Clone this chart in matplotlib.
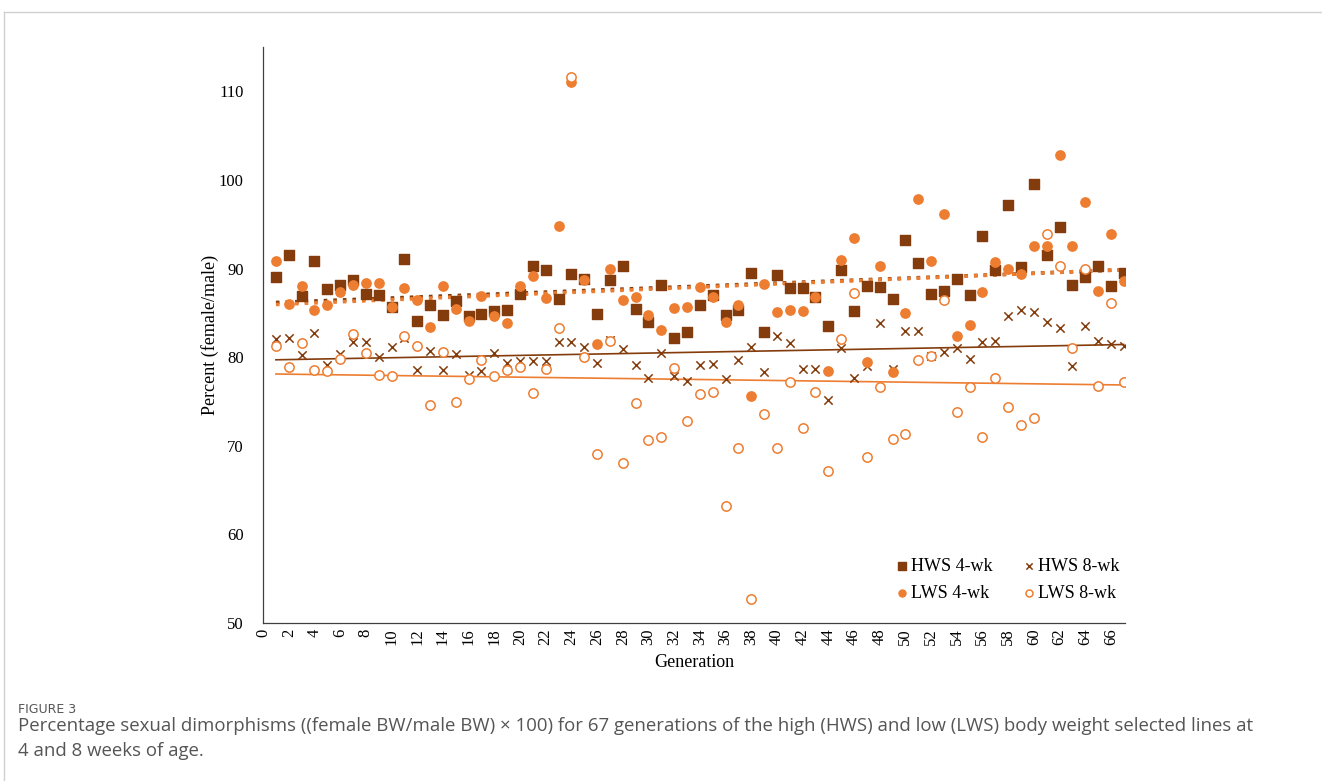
import numpy as np
import matplotlib
matplotlib.use("Agg")
import matplotlib.pyplot as plt
from matplotlib.lines import Line2D

# generations 1..67
gen = np.arange(1, 68)

hws4 = [89.1, 91.5, 86.9, 90.8, 87.7, 88.1, 88.7, 87.1, 87.0, 85.7,
        91.1, 84.1, 85.9, 84.8, 86.3, 84.7, 84.9, 85.2, 85.3, 87.1,
        90.3, 89.8, 86.6, 89.4, 88.8, 84.9, 88.7, 90.3, 85.4, 84.0,
        88.2, 82.2, 82.8, 85.9, 87.0, 84.8, 85.3, 89.5, 82.8, 89.3,
        87.8, 87.8, 86.8, 83.5, 89.8, 85.2, 88.0, 87.9, 86.6, 93.2,
        90.6, 87.1, 87.5, 88.8, 87.0, 93.7, 89.8, 97.2, 90.2, 99.5,
        91.5, 94.7, 88.1, 89.0, 90.3, 88.0, 89.5]

hws8 = [82.1, 82.2, 80.3, 82.7, 79.1, 80.4, 81.7, 81.7, 80.0, 81.1,
        82.2, 78.5, 80.7, 78.5, 80.4, 78.0, 78.4, 80.5, 79.3, 79.6,
        79.6, 79.6, 81.7, 81.7, 81.1, 79.3, 81.9, 80.9, 79.1, 77.7,
        80.5, 77.9, 77.3, 79.1, 79.2, 77.5, 79.7, 81.2, 78.3, 82.4,
        81.6, 78.7, 78.7, 75.2, 81.0, 77.6, 79.0, 83.9, 78.7, 82.9,
        82.9, 80.1, 80.6, 81.0, 79.8, 81.7, 81.8, 84.7, 85.3, 85.1,
        84.0, 83.3, 79.0, 83.5, 81.8, 81.5, 81.3]

lws4 = [90.9, 86.0, 88.0, 85.3, 85.9, 87.3, 88.1, 88.4, 88.4, 85.7,
        87.8, 86.4, 83.4, 88.0, 85.4, 84.1, 86.9, 84.6, 83.9, 88.0,
        89.2, 86.7, 94.8, 111.0, 88.7, 81.5, 90.0, 86.5, 86.8, 84.8,
        83.1, 85.6, 85.7, 87.9, 86.8, 84.0, 85.9, 75.6, 88.3, 85.1,
        85.3, 85.2, 86.8, 78.4, 91.0, 93.4, 79.4, 90.3, 78.3, 85.0,
        97.8, 90.9, 96.2, 82.4, 83.6, 87.3, 90.7, 89.9, 89.4, 92.5,
        92.6, 102.8, 92.6, 97.5, 87.5, 93.9, 88.6]

lws8 = [81.3, 78.9, 81.6, 78.6, 78.4, 79.8, 82.6, 80.5, 78.0, 77.9,
        82.4, 81.3, 74.6, 80.6, 74.9, 77.5, 79.7, 77.9, 78.6, 78.9,
        76.0, 78.7, 83.3, 111.6, 80.0, 69.1, 81.8, 68.1, 74.8, 70.6,
        71.0, 78.8, 72.8, 75.8, 76.1, 63.2, 69.8, 52.7, 73.6, 69.8,
        77.2, 72.0, 76.1, 67.2, 82.1, 87.2, 68.7, 76.6, 70.8, 71.3,
        79.7, 80.1, 86.4, 73.8, 76.6, 71.0, 77.6, 74.4, 72.3, 73.1,
        93.9, 90.3, 81.0, 90.0, 76.8, 86.1, 77.2]

brown = "#843C0C"
orange = "#ED7D31"
serif = "Liberation Serif"

fig = plt.figure(figsize=(13.22, 7.81), dpi=100)
ax = fig.add_axes([0.199, 0.2023, 0.652, 0.7375])

# linear trendlines
for y, col, ls, lw in [(hws4, brown, ":", 2.6), (lws4, orange, ":", 2.6),
                       (hws8, brown, "-", 1.2), (lws8, orange, "-", 1.2)]:
    k, b = np.polyfit(gen, y, 1)
    ax.plot([gen[0], gen[-1]], [k * gen[0] + b, k * gen[-1] + b],
            color=col, ls=ls, lw=lw, zorder=1)

h1 = ax.scatter(gen, hws4, marker="s", s=50, color=brown, label="HWS 4-wk", zorder=3)
h2 = ax.scatter(gen, hws8, marker="x", s=36, color=brown, linewidths=1.1, label="HWS 8-wk", zorder=3)
h3 = ax.scatter(gen, lws4, marker="o", s=45, color=orange, label="LWS 4-wk", zorder=3)
h4 = ax.scatter(gen, lws8, marker="o", s=45, facecolors="white", edgecolors=orange,
                linewidths=1.1, label="LWS 8-wk", zorder=3)

ax.set_xlim(0, 67.1)
ax.set_ylim(50, 115)
ax.set_xticks(np.arange(0, 67, 2))
ax.set_yticks(np.arange(50, 111, 10))
ax.tick_params(axis="x", length=0, labelrotation=90, pad=4)
ax.tick_params(axis="y", length=0, pad=14)
for lab in ax.get_xticklabels() + ax.get_yticklabels():
    lab.set_fontfamily(serif)
    lab.set_fontsize(12)
for s in ["top", "right"]:
    ax.spines[s].set_visible(False)
for s in ["left", "bottom"]:
    ax.spines[s].set_color("#404040")
    ax.spines[s].set_linewidth(0.9)

ax.set_xlabel("Generation", fontfamily=serif, fontsize=13, labelpad=6)
ax.set_ylabel("Percent (female/male)", fontfamily=serif, fontsize=13, labelpad=0)

# row-wise order: HWS on first row, LWS on second
ax.legend([h1, h3, h2, h4], ["HWS 4-wk", "LWS 4-wk", "HWS 8-wk", "LWS 8-wk"],
          ncol=2, loc="lower right", bbox_to_anchor=(1.012, 0.008), frameon=False,
          prop={"family": serif, "size": 13}, handlelength=0.8, handletextpad=0.1,
          columnspacing=1.6, labelspacing=0.55, markerscale=0.75)

# figure frame and caption
fig.add_artist(Line2D([0.003, 1.0], [0.985, 0.985], color="#d0d0d0", lw=1))
fig.add_artist(Line2D([0.003, 0.003], [0.0, 0.985], color="#d0d0d0", lw=1))
fig.text(0.0136, 0.087, "FIGURE 3", fontsize=9, color="#555555", family="DejaVu Sans")
fig.text(0.0136, 0.070,
         "Percentage sexual dimorphisms ((female BW/male BW) \u00d7 100) for 67 generations of the high (HWS) "
         "and low (LWS) body weight selected lines at",
         fontsize=13.4, color="#555555", family="Open Sans", va="center")
fig.text(0.0136, 0.039, "4 and 8 weeks of age.",
         fontsize=13.4, color="#555555", family="Open Sans", va="center")

fig.savefig("out.png", dpi=100)
